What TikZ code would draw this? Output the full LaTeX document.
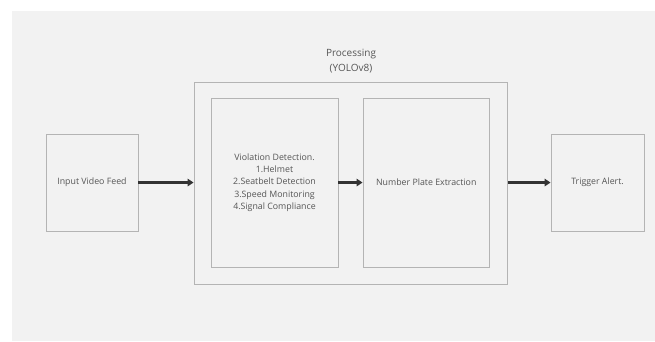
\documentclass[tikz,border=0pt]{standalone}
\usepackage{fontspec}
\setmainfont{Open Sans}
\usetikzlibrary{arrows.meta}
\definecolor{bgc}{HTML}{F2F2F2}
\definecolor{linec}{HTML}{B4B4B4}
\definecolor{txtc}{HTML}{555555}
\definecolor{arrc}{HTML}{333333}
\tikzset{
  box/.style={draw=linec, line width=0.9pt, fill=bgc, inner sep=0pt, text=txtc,
    font=\fontsize{8.8}{12.3}\selectfont, align=center},
  conn/.style={draw=arrc, line width=2.2pt, -{Triangle[length=6pt,width=7.5pt]}},
  lbl/.style={text=txtc, font=\fontsize{10}{15}\selectfont, align=center, inner sep=0pt}
}
\begin{document}
\begin{tikzpicture}[x=1pt,y=-1pt]
\useasboundingbox (0,0) rectangle (655,341);
\fill[white] (0,0) rectangle (655,341);
\fill[bgc] (12,11) rectangle (655,341);
\node[box, minimum width=313.5pt, minimum height=202pt] (proc) at (350.75,183) {};
\node[lbl, anchor=south] (ptitle) at (351,73.5) {Processing\\(YOLOv8)};
\node[box, minimum width=92pt, minimum height=97pt] (inp) at (92,182.5) {Input Video Feed};
\node[box, minimum width=127pt, minimum height=169pt] (viol) at (274.5,182.5) {Violation Detection.\\1.Helmet\\2.Seatbelt Detection\\3.Speed Monitoring\\4.Signal Compliance};
\node[box, minimum width=126.5pt, minimum height=169pt] (npe) at (426.25,182.5) {Number Plate Extraction};
\node[box, minimum width=93pt, minimum height=97pt] (trig) at (597.5,182.5) {Trigger Alert.};
\draw[conn] (inp.east) -- (proc.west |- inp.east);
\draw[conn] (viol.east) -- (npe.west);
\draw[conn] (proc.east |- npe.east) -- (trig.west);
\end{tikzpicture}
\end{document}
